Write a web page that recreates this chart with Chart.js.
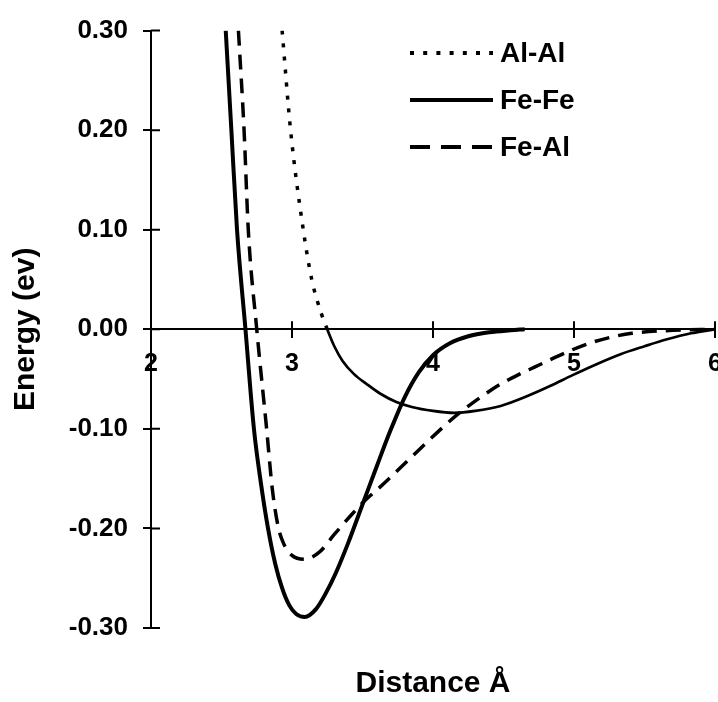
<!DOCTYPE html>
<html>
<head>
<meta charset="utf-8">
<script src="https://cdn.jsdelivr.net/npm/chart.js@4"></script>
<style>
    body { margin: 0; background: #fff; }
    canvas { display: block; }
</style>
</head>
<body>
<canvas id="potChart" width="718" height="702"></canvas>
<script>
// Pair potentials
const alAlX = [2.93, 2.99, 3.08, 3.14, 3.21, 3.25, 3.30, 3.36, 3.44, 3.53, 3.63, 3.74, 3.85, 4.00, 4.15, 4.30, 4.48, 4.67, 4.83, 4.99, 5.16, 5.33, 5.50, 5.66, 5.83, 6.00];
const alAlY = [0.30, 0.20, 0.10, 0.05, 0.015, 0.00, -0.017, -0.032, -0.045, -0.055, -0.065, -0.073, -0.078, -0.082, -0.084, -0.082, -0.077, -0.067, -0.057, -0.046, -0.035, -0.025, -0.017, -0.010, -0.004, 0];

const feFeX = [2.53, 2.57, 2.61, 2.67, 2.73, 2.78, 2.83, 2.88, 2.93, 2.98, 3.03, 3.09, 3.17, 3.24, 3.31, 3.40, 3.50, 3.60, 3.70, 3.80, 3.90, 4.00, 4.12, 4.25, 4.40, 4.55, 4.65];
const feFeY = [0.30, 0.20, 0.10, 0.00, -0.10, -0.155, -0.20, -0.235, -0.26, -0.277, -0.286, -0.289, -0.281, -0.265, -0.245, -0.214, -0.176, -0.138, -0.101, -0.068, -0.043, -0.026, -0.014, -0.007, -0.003, -0.001, 0];

const feAlX = [2.62, 2.66, 2.69, 2.75, 2.82, 2.86, 2.90, 2.94, 3.00, 3.09, 3.20, 3.30, 3.43, 3.51, 3.62, 3.85, 4.05, 4.17, 4.33, 4.48, 4.60, 4.72, 4.84, 4.98, 5.13, 5.26, 5.41, 5.70, 6.00];
const feAlY = [0.30, 0.20, 0.10, 0.00, -0.10, -0.16, -0.197, -0.215, -0.227, -0.231, -0.223, -0.206, -0.185, -0.173, -0.159, -0.128, -0.101, -0.086, -0.069, -0.055, -0.046, -0.038, -0.030, -0.021, -0.013, -0.008, -0.004, -0.001, 0];

const seriesNames = ['Al-Al', 'Fe-Fe', 'Fe-Al'];
const xTicks = [2, 3, 4, 5, 6];
const yTicks = [-0.30, -0.20, -0.10, 0.00, 0.10, 0.20, 0.30];

const FONT = "'Liberation Sans', Arial, sans-serif";

function toPoints(xs, ys) {
    return xs.map((x, i) => ({ x: x, y: ys[i] }));
}

// ticks crossing the axes (Chart.js only draws the outer half)
const crossTicks = {
    id: 'crossTicks',
    afterDraw(chart) {
        const ctx = chart.ctx;
        const xs = chart.scales.x, ys = chart.scales.y;
        const y0 = ys.getPixelForValue(0);
        const x0 = chart.chartArea.left;
        ctx.save();
        ctx.strokeStyle = '#000';
        ctx.lineWidth = 2;
        ctx.beginPath();
        xs.ticks.forEach(t => {
            const px = xs.getPixelForValue(t.value);
            ctx.moveTo(px, y0 - 8);
            ctx.lineTo(px, y0);
        });
        ys.ticks.forEach(t => {
            const py = ys.getPixelForValue(t.value);
            ctx.moveTo(x0, py);
            ctx.lineTo(x0 + 9, py);
        });
        ctx.stroke();
        ctx.restore();
    }
};

// legend box in the top right, line sample then label
const lineLegend = {
    id: 'lineLegend',
    afterDraw(chart) {
        const ctx = chart.ctx;
        const left = 410, lineLen = 83, top = 53, rowGap = 47;
        ctx.save();
        ctx.font = 'bold 28px ' + FONT;
        ctx.textBaseline = 'middle';
        ctx.fillStyle = '#000';
        chart.data.datasets.forEach((ds, i) => {
            const y = top + i * rowGap;
            ctx.strokeStyle = '#000';
            ctx.lineWidth = ds.legendWidth;
            ctx.setLineDash(ds.legendDash);
            ctx.beginPath();
            ctx.moveTo(left, y);
            ctx.lineTo(left + lineLen, y);
            ctx.stroke();
            ctx.setLineDash([]);
            ctx.fillText(ds.label, left + lineLen + 7, y + 1);
        });
        ctx.restore();
    }
};

new Chart(document.getElementById('potChart'), {
    type: 'line',
    data: {
        datasets: [{
            label: seriesNames[0],
            data: toPoints(alAlX, alAlY),
            borderColor: '#000',
            borderWidth: 2.7,
            legendDash: [4, 9.2],
            legendWidth: 4,
            segment: {
                borderDash: c => c.p0.parsed.y > 0.005 ? [4, 9] : [],
                borderWidth: c => c.p0.parsed.y > 0.005 ? 3.5 : 2.7
            }
        }, {
            label: seriesNames[1],
            data: toPoints(feFeX, feFeY),
            borderColor: '#000',
            borderWidth: 4,
            legendDash: [],
            legendWidth: 4
        }, {
            label: seriesNames[2],
            data: toPoints(feAlX, feAlY),
            borderColor: '#000',
            borderWidth: 3.5,
            borderDash: [15, 9],
            legendDash: [20, 11],
            legendWidth: 4
        }]
    },
    options: {
        responsive: false,
        animation: false,
        layout: { padding: { top: 22, right: 3, left: 0, bottom: 0 } },
        elements: {
            point: { radius: 0 },
            line: { cubicInterpolationMode: 'monotone', fill: false }
        },
        plugins: {
            legend: { display: false },
            tooltip: { enabled: false },
            title: {
                display: true,
                text: 'Distance Å',
                position: 'bottom',
                fullSize: false,
                color: '#000',
                font: { family: FONT, size: 30, weight: 'bold' },
                padding: { top: 38, bottom: 0 }
            }
        },
        scales: {
            x: {
                type: 'linear',
                position: { y: 0 },
                min: 2,
                max: 6,
                afterBuildTicks: s => { s.ticks = xTicks.map(v => ({ value: v })); },
                afterFit: s => { s.paddingLeft = 0; s.paddingRight = 0; },
                ticks: {
                    color: '#000',
                    padding: 12,
                    maxRotation: 0,
                    font: { family: FONT, size: 25, weight: 'bold' },
                    callback: v => String(v)
                },
                grid: { drawOnChartArea: false, drawTicks: true, tickLength: 8, color: '#000', lineWidth: 2 },
                border: { display: true, color: '#000', width: 2 }
            },
            y: {
                type: 'linear',
                position: 'left',
                min: -0.3,
                max: 0.3,
                afterBuildTicks: s => { s.ticks = yTicks.map(v => ({ value: v })); },
                afterFit: s => { s.width = 151; },
                ticks: {
                    color: '#000',
                    padding: 15,
                    font: { family: FONT, size: 26, weight: 'bold' },
                    callback: v => (Math.abs(v) < 1e-9 ? 0 : v).toFixed(2)
                },
                title: {
                    display: true,
                    text: 'Energy (ev)',
                    color: '#000',
                    font: { family: FONT, size: 30, weight: 'bold' },
                    padding: { top: 8, bottom: 0 }
                },
                grid: { drawOnChartArea: false, drawTicks: true, tickLength: 8, color: '#000', lineWidth: 2 },
                border: { display: true, color: '#000', width: 2 }
            }
        }
    },
    plugins: [crossTicks, lineLegend]
});
</script>
</body>
</html>
